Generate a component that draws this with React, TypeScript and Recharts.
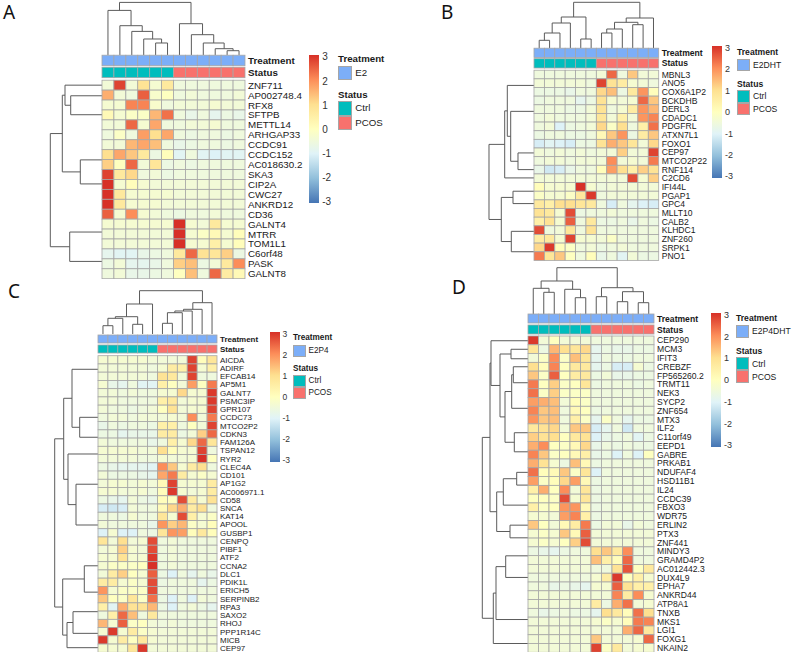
import React from 'react';
import { ScatterChart, Scatter, BarChart, Bar, XAxis, YAxis, ReferenceLine } from 'recharts';

type Tree = number | [number, Tree, Tree];

// ---------- Panel A ----------
const genesA = ['ZNF711','AP002748.4','RFX8','SFTPB','METTL14','ARHGAP33','CCDC91','CCDC152','AC018630.2','SKA3','CIP2A','CWC27','ANKRD12','CD36','GALNT4','MTRR','TOM1L1','C6orf48','PASK','GALNT8'];
const valuesA = [
  [-.2,2.8,-.2,.9,-.1,.7,-.3,-.3,-.3,-.3,-.3,-.3],
  [1.6,-.2,-.3,2.5,0,.2,-.3,-.2,-.3,-.3,-.3,-.2],
  [-.1,-.1,2.1,2.1,0,-.3,-.2,-.2,-.2,-.1,-.2,-.2],
  [.4,-.1,.1,.1,1.5,2.3,-.3,-.5,-.3,-.6,-.4,-.5],
  [-.2,-.2,2.4,-.1,1.7,-.3,-.3,-.2,-.2,-.1,-.3,-.3],
  [-.3,.1,-.3,1.8,1,1.7,-.3,-.4,-.3,-.3,-.4,-.3],
  [-.2,-.2,1.5,1.7,1.4,-.3,-.5,-.4,-.3,-.3,-.4,-.3],
  [1,1.7,1.3,.7,-.4,.3,-.7,-.3,-.7,-.8,-.7,-.7],
  [1.2,.2,2.4,-.2,.8,-.4,-.3,-.4,-.3,-.3,-.3,-.3],
  [2.8,.7,1.1,-.3,-.2,-.4,-.3,-.3,-.3,-.3,-.3,-.3],
  [3,-.1,.3,-.1,-.2,-.2,-.2,-.2,-.2,-.2,-.2,-.2],
  [3,.7,-.1,-.1,-.1,-.1,-.2,-.2,-.2,-.2,-.2,-.2],
  [3,.7,-.1,-.1,-.1,-.2,-.2,-.2,-.2,-.2,-.2,-.2],
  [2.5,-.1,2,-.1,-.2,-.3,-.4,-.3,-.3,-.2,-.3,-.3],
  [-.1,-.1,-.1,-.1,-.1,-.1,3,-.1,-.2,.7,-.1,-.1],
  [-.2,-.2,-.2,-.2,-.2,-.2,3,-.1,.1,.4,-.1,.3],
  [-.2,-.2,-.2,-.2,-.2,-.2,3,-.1,-.1,.5,-.1,.3],
  [-.6,-.7,-.7,-.5,-.4,-.3,.7,2.4,.9,.8,1.2,-.4],
  [-.4,-.2,-.6,-.6,-.5,-.3,1.2,1.4,-.4,-.2,.7,2],
  [-.3,-.2,-.5,-.5,-.4,-.3,.2,1.4,-.3,2.4,.6,.4],
];
const colTreeA: Tree = [52.6,[44.6,0,[29.3,1,[23.6,2,[16,3,[12,4,5]]]]],[31.3,6,[20.3,7,[12,8,[6.3,9,[4.3,10,11]]]]]];
const rowTreeA: Tree = [51.7,[39.7,[37,0.5,[31.3,1.57,3.48]],[21.7,8.03,10.45]],[32.3,15.3,18.26]];

// ---------- Panel B ----------
const genesB = ['MBNL3','ANO5','COX6A1P2','BCKDHB','DERL3','CDADC1','PDGFRL','ATXN7L1','FOXO1','CEP97','MTCO2P22','RNF114','C2CD6','IFI44L','PGAP1','GPC4','MLLT10','CALB2','KLHDC1','ZNF260','SRPK1','PNO1'];
const valuesB = [
  [-.3,-.3,-.3,-.3,-.3,-.3,-.2,2.4,-.3,1.3,-.2,-.2],
  [-.2,-.2,-.2,-.2,-.2,-.3,2.8,.9,.6,-.1,-.2,-.3],
  [-.4,-.4,-.4,-.5,-.3,-.3,1.1,1.4,-.4,.7,1.9,.3],
  [-.4,-.3,-.3,-.3,-.6,-.4,.9,-.1,-.2,-.1,2.4,1.3],
  [-.3,-.3,-.3,-.4,-.4,-.2,.9,-.3,-.1,.6,1.9,1.5],
  [-.3,-.2,-.3,-.3,-.3,-.2,.8,-.2,.5,-.2,1.9,2.1],
  [-.3,-.2,-.8,-.4,-.3,-.2,1.1,.1,1,-.3,.5,2.3],
  [-.4,-.3,-.3,-.4,-.4,-.3,.4,1.3,1.9,-.4,.6,1.3],
  [-.9,-.7,-.8,-.9,-.4,-.4,.9,1.6,1.3,.8,-.2,1.1],
  [-.2,-.3,-.2,-.3,-.2,-.3,-.2,-.2,1.2,-.2,-.2,2.8],
  [-.3,-.2,-.2,-.3,-.2,-.2,-.2,2,-.2,-.1,-.2,2.2],
  [-.5,-1,-.9,-.5,-.3,-.3,.3,1.8,1,.5,1.2,.9],
  [-.2,-.2,-.2,-.2,-.2,-.2,-.2,-.2,-.2,2.7,-.1,1.2],
  [.3,-.1,-.1,-.1,3,-.1,-.3,-.2,-.2,-.2,-.2,-.2],
  [.1,-.1,-.1,.1,.7,2.9,-.3,-.2,-.2,-.2,-.2,-.2],
  [.7,.5,1,1,.8,.7,-.3,-.9,-.3,-.6,-.8,-.9],
  [.9,.7,-.1,2.7,-.4,-.3,-.3,-.2,-.3,-.3,-.3,-.3],
  [.5,.9,-.1,2.5,-.3,.7,-.4,-.4,-.3,-.5,-.3,-.4],
  [2.7,-.3,-.2,.8,-.3,.9,-.3,-.3,-.3,-.3,-.3,-.3],
  [.6,.7,-.1,2.8,-.1,-.1,-.2,.1,-.3,-.3,-.3,-.3],
  [1.1,2.9,.3,.1,-.3,-.2,-.4,-.3,-.2,-.3,-.3,-.3],
  [2.2,.8,1.3,.2,-.3,.3,-.5,-.3,-.7,-.2,-.4,-.4],
];
const colTreeB: Tree = [45.7,[31,[25,[15,[7.7,0,1],2],3],[9,4,5]],[30,[25.7,[19,[15,6,7],8],[23.3,9,10]],11]];
const rowTreeB: Tree = [45,[29.3,[26.7,1.76,[23.3,4.76,[16,9.57,11.5]]],12.46],[32.7,[21,14,15.43],[22.7,18.64,21]]];

// ---------- Panel C ----------
const genesC = ['AICDA','ADIRF','EFCAB14','AP5M1','GALNT7','PSMC3IP','GPR107','CCDC73','MTCO2P2','CDKN3','FAM126A','TSPAN12','RYR2','CLEC4A','CD101','AP1G2','AC006971.1','CD58','SNCA','KAT14','APOOL','GUSBP1','CENPQ','PIBF1','ATF2','CCNA2','DLC1','PDIK1L','ERICH5','SERPINB2','RPA3','SAXO2','RHOJ','PPP1R14C','MICB','CEP97'];
const valuesC = [
  [-.1,-.1,-.1,-.1,-.1,-.2,-.2,-.2,-.2,2.8,.3,.8],
  [-.2,-.2,-.2,-.2,-.2,-.3,-.1,.6,.5,2.8,-.1,.5],
  [-.2,-.2,-.2,-.2,-.2,-.3,.9,.7,-.2,2.8,-.3,-.3],
  [-.1,-.5,-.6,-.3,-.7,-.7,.5,.2,-.2,1.8,.2,2.2],
  [-.2,-.2,-.3,-.2,-.3,-.3,-.1,-.1,1.1,-.1,-.1,2.9],
  [-.2,-.2,-.3,-.3,-.3,-.3,.5,.7,-.2,-.1,-.1,2.9],
  [-.2,-.3,-.3,-.4,-.3,-.2,.2,.9,-.2,-.1,-.1,2.8],
  [-.3,-.2,-.2,-.3,-.2,-.2,-.2,-.1,-.2,2,-.2,2.2],
  [-.5,-.3,-.4,-.3,-.3,-.4,.5,.5,-.3,.2,-.2,2.8],
  [-.4,-.4,-.6,-.5,-.5,-.5,.6,.6,-.4,-.2,1.2,2.4],
  [-.2,-.3,-.3,-.3,-.3,-.5,-.3,.5,-.1,1.1,2.4,.8],
  [-.1,-.1,-.1,-.1,-.2,-.2,1,.3,-.1,-.1,2.8,-.3],
  [-.2,-.2,-.2,-.2,-.3,-.3,-.1,-.2,-.2,-.1,3,.2],
  [-.4,-.5,-.6,-.6,-.6,-.7,2,1.3,-.1,.6,1,-.3],
  [-.2,-.4,-.4,-.4,-.5,-.6,1.7,2.2,.6,-.1,.1,-.1],
  [-.2,-.1,-.1,-.2,-.1,-.2,.4,2.8,-.1,-.1,-.1,.6],
  [-.1,-.1,-.2,-.2,-.1,-.3,.3,2.9,-.1,-.2,-.1,.6],
  [-.4,-.5,-.6,-.2,-.4,-.5,.3,.2,2.7,.6,-.1,.9],
  [-.9,-1,-.9,-.2,-.3,-.3,.4,1.1,1.6,.6,1,-.3],
  [-.3,-.3,-.4,-.1,-.3,-.3,.8,-.1,2.7,.5,-.1,.1],
  [-.2,-.3,-.3,-.3,-.3,-.5,1.9,1.2,1.5,.1,-.1,.3],
  [-.8,-.1,-.8,-.8,-.3,-.4,.8,1.9,1.8,.3,.7,.3],
  [.8,-.2,1,-.2,-.1,2.7,-.3,-.2,-.3,-.3,-.3,-.3],
  [-.2,-.1,1.2,-.1,-.2,2.7,-.3,-.2,-.3,-.3,-.3,-.3],
  [-.1,-.1,.9,-.1,-.1,2.9,-.3,-.2,-.3,-.3,-.3,-.3],
  [-.1,.1,.1,.1,.2,3,-.3,-.2,-.3,-.3,-.3,-.3],
  [-.2,.6,1.2,.2,-.1,2.5,-.4,-.8,-.3,-.6,-.3,-.5],
  [.6,.6,-.1,.1,-.1,2.7,-.4,-.3,-.3,-.3,-.6,-.4],
  [1.9,-.1,.1,.1,.1,2.7,-.3,-.3,-.3,-.3,-.3,-.3],
  [1.3,.2,.1,.8,.1,2.3,-.4,-.8,-.3,-.8,-.2,-.3],
  [.5,-.7,1.6,.9,.9,1.5,-.4,-.8,-.3,-.2,-.4,-.6],
  [-.3,.5,2.4,1.4,-.3,.7,-.3,-.3,-.3,-.3,-.3,-.3],
  [1.5,-.1,2.5,.1,.2,-.2,-.3,-.2,-.3,-.3,-.3,-.3],
  [-.1,2.9,-.1,.6,.1,-.1,-.2,-.2,-.2,-.2,-.2,-.2],
  [2.9,-.1,.6,.2,.7,-.1,-.2,-.2,-.2,-.2,-.2,-.2],
  [-.1,-.1,-.1,.8,2.9,-.2,-.2,-.2,-.2,-.2,-.2,-.2],
];
const colTreeC: Tree = [43.3,[30,[17.3,[15.7,[8.3,0,1],2],[9.7,3,4]],5],[31.3,[24.7,[23,[21.3,[10.7,6,7],8],9],10],11]];
const rowTreeC: Tree = [43.3,[34.3,[26,1.65,[18.3,7.48,9.9]],[30,11.93,[22,15.6,20.55]]],[35.3,[13.7,25.5,28.7],[31,[25,31.07,33.7],35.44]]];

// ---------- Panel D ----------
const genesD = ['CEP290','MCM3','IFIT3','CREBZF','FP565260.2','TRMT11','NEK3','SYCP2','ZNF654','MTX3','ILF2','C11orf49','EEPD1','GABRE','PRKAB1','NDUFAF4','HSD11B1','IL24','CCDC39','FBXO3','WDR75','ERLIN2','PTX3','ZNF441','MINDY3','GRAMD4P2','AC012442.3','DUX4L9','EPHA7','ANKRD44','ATP8A1','TNXB','MKS1','LGI1','FOXG1','NKAIN2'];
const valuesD = [
  [2.9,-.2,.2,-.2,-.2,-.2,-.3,-.3,-.3,-.3,-.3,-.3],
  [.8,-.4,1.5,1,.8,1.1,-.6,-.4,-.5,-.5,-.4,-.4],
  [-.2,.1,2,.1,1.4,.8,-.6,-.3,-.4,-.4,-.3,-.3],
  [1,.3,2.1,.2,.7,.7,-.6,-.4,-.9,-.9,-.1,-.4],
  [1.3,.1,2.5,.2,.6,.7,-.4,-.2,-.5,-.5,-.4,-.4],
  [2.2,.2,1.2,.1,.2,.8,-.4,-.3,-.3,-.3,-.4,-.3],
  [2.3,.1,1.2,.1,.1,.1,-.3,-.3,-.3,-.3,-.3,-.3],
  [1.8,1.6,1.4,-.2,.3,.1,-.3,-.3,-.3,-.3,-.3,-.3],
  [2.1,1.3,1.4,-.3,.4,.2,-.4,-.3,-.3,-.3,-.3,-.3],
  [1.9,1.3,1.4,-.3,.5,.1,-.6,.1,-.3,-.6,-.4,-.4],
  [.7,.9,1.1,-.2,1.3,1.3,-.9,-.6,-.3,-1,-.3,-.3],
  [1.2,.9,1,.2,.7,.9,-.8,-.5,-.4,-.3,-.7,-.4],
  [1.6,2,.2,.1,.4,1.1,-.5,-.3,-.4,-.3,-.4,-.4],
  [2.1,1.3,.1,.2,.4,.5,-.5,-.4,-.8,-.3,-.8,.2],
  [1.6,.9,-.1,-.4,1.4,.4,-.4,-.3,-.3,-.3,-.3,-.3],
  [2.3,.3,.4,1.3,.1,.8,-.8,-.3,-.3,-.3,-.3,-.3],
  [1.8,.1,.3,1.1,1.8,.4,-.4,-.3,-.3,-.3,-.3,-.3],
  [.5,1.6,.2,2,-.2,.8,-.4,-.3,-.3,-.3,-.3,-.3],
  [.2,.2,.1,2.7,-.1,.8,-.4,-.3,-.3,-.3,-.3,-.3],
  [.5,.1,.2,1.9,1.9,.4,-.4,-.3,-.3,-.3,-.3,-.3],
  [-.1,-.1,-.2,1.8,2.1,.5,-.4,-.3,-.3,-.3,-.3,-.3],
  [1.3,.2,-.2,.4,.6,2.2,-.4,-.2,-.2,-.5,-.2,-.3],
  [-.1,.1,-.1,1.3,.4,2.5,-.2,-.2,-.2,-.2,-.2,-.2],
  [-.1,.1,-.1,.2,1.2,2.7,-.2,-.2,-.2,-.2,-.2,-.2],
  [-.4,-.5,-.6,-.4,-.3,-.3,1,1.3,.7,2,-.3,-.3],
  [-.2,-.2,-.2,-.2,-.2,-.2,1.4,.5,.3,2.4,-.3,-.3],
  [-.2,-.2,-.2,-.2,-.2,-.2,-.3,-.3,.9,2.6,.2,.7],
  [-.3,-.3,-.3,-.3,-.3,-.3,-.1,.6,2.9,.2,.5,-.1],
  [-.3,-.3,-.5,-.4,-.5,-.6,-.1,-.1,2.5,.9,.5,.5],
  [-.2,-.2,-.2,-.2,-.2,-.2,-.2,-.2,2.1,.6,2,-.1],
  [-.2,-.2,-.2,-.2,-.2,-.2,.6,-.4,1.6,2.3,-.2,-.1],
  [-.3,-.5,-.4,-.3,-.4,-.4,-.6,1,.7,.3,2.3,1],
  [-.2,-.2,-.2,-.2,-.2,-.2,-.1,.1,-.1,.3,2.2,2.1],
  [-.2,-.2,-.2,-.2,-.2,-.2,-.2,-.2,-.2,1.6,2.4,.7],
  [-.2,-.2,-.2,-.2,-.2,-.2,1.3,-.2,-.2,-.2,-.1,2.4],
  [-.2,-.2,-.2,-.2,-.2,-.2,2.8,.1,.7,-.2,-.1,-.1],
];
const colTreeD: Tree = [46.3,[33,[25.7,0,[21.7,1,2]],[24.7,3,[16.3,4,5]]],[26.3,[17.3,6,7],[22.3,[12.3,8,9],[11.3,10,11]]]];
const rowTreeD: Tree = [45.7,[38,[37,.54,[28,[17,1.51,2.59],[23,[16.3,[14.7,3.5,5.32],8.23],[13.7,11.01,13.18]]]],[31.3,[24.7,[11.3,15.52,16.97],19.25],[18,21.53,22.97]]],[34.7,[32,[22.3,25.02,27.48],32.27],35]];

// ---------- Shared ----------
const statusByColumn = ['Ctrl','Ctrl','Ctrl','Ctrl','Ctrl','Ctrl','PCOS','PCOS','PCOS','PCOS','PCOS','PCOS'];
const scaleTicks = [-3,-2,-1,0,1,2,3];
const scaleStops = ['#4575B4','#91BFDB','#E0F3F8','#FFFFBF','#FEE090','#FC8D59','#D73027'];
const TREAT = '#7CAEF8';
const CTRL = '#00BDBD';
const PCOS = '#F8716D';
const FONT = '"Liberation Sans", Arial, sans-serif';

const hex = (s: string) => [1, 3, 5].map((i) => parseInt(s.slice(i, i + 2), 16));
function colorOf(value: number) {
  // The reference's near-zero cells lean paler and greener than the pure midpoint.
  const v = value < 0.5 ? value - 0.22 : value;
  const t = Math.max(0, Math.min(5.999, v + 3));
  const i = Math.floor(t);
  const a = hex(scaleStops[i]);
  const b = hex(scaleStops[i + 1]);
  const f = t - i;
  return `rgb(${a.map((c, k) => Math.round(c + (b[k] - c) * f)).join(',')})`;
}

type Seg = { d1: number; p1: number; d2: number; p2: number };
function walk(node: Tree, leaf: (n: number) => number, out: Seg[]): { p: number; d: number } {
  if (typeof node === 'number') return { p: leaf(node), d: 0 };
  const a = walk(node[1], leaf, out);
  const b = walk(node[2], leaf, out);
  const d = node[0];
  out.push({ d1: d, p1: a.p, d2: a.d, p2: a.p });
  out.push({ d1: d, p1: b.p, d2: b.d, p2: b.p });
  out.push({ d1: d, p1: a.p, d2: d, p2: b.p });
  return { p: (a.p + b.p) / 2, d };
}

type PanelProps = {
  genes: string[]; values: number[][]; colTree: Tree; rowTree: Tree;
  hl: number; hr: number; ht: number; hb: number;
  t1: number; s1: number; annH: number; base: number;
  fs: number; labelW: number; dendW: number; dendH: number;
};

function Heatmap(p: PanelProps) {
  const n = p.genes.length;
  const cols = p.values[0].length;
  const colW = (p.hr - p.hl) / cols;
  const rowH = (p.hb - p.ht) / n;
  const plotL = p.hl - p.dendW;
  const plotT = p.base - p.dendH;
  const toY = (px: number) => (px - p.ht) / rowH;

  const cells = p.values.flatMap((row, r) => row.map((v, c) => ({ x: c + 0.5, y: r + 0.5, v })));
  const yT = toY(p.t1 + p.annH / 2);
  const yS = toY(p.s1 + p.annH / 2);
  const ann = statusByColumn.flatMap((s, c) => [
    { x: c + 0.5, y: yT, color: TREAT },
    { x: c + 0.5, y: yS, color: s === 'Ctrl' ? CTRL : PCOS },
  ]);

  const labelOf = new Map<number, string>();
  labelOf.set(yT, 'Treatment');
  labelOf.set(yS, 'Status');
  p.genes.forEach((g, i) => labelOf.set(i + 0.5, g));
  const ticks = Array.from(labelOf.keys());

  const colSegs: Seg[] = [];
  walk(p.colTree, (i) => i + 0.5, colSegs);
  const rowSegs: Seg[] = [];
  walk(p.rowTree, (v) => v, rowSegs);
  const yBase = toY(p.base);

  const cellShape = (sp: any) => (
    <rect x={sp.cx - colW / 2} y={sp.cy - rowH / 2} width={colW} height={rowH}
      fill={colorOf(sp.payload.v)} stroke="#a6a6a6" strokeWidth={0.8} />
  );
  const annShape = (sp: any) => (
    <rect x={sp.cx - colW / 2} y={sp.cy - p.annH / 2} width={colW} height={p.annH}
      fill={sp.payload.color} stroke="#a6a6a6" strokeWidth={0.8} />
  );
  const tick = (tp: any) => {
    const v = tp.payload.value;
    const bold = v === yT || v === yS;
    return (
      <text x={tp.x} y={tp.y} dy="0.36em" fontFamily={FONT} fontSize={p.fs}
        fontWeight={bold ? 700 : 400} fill="#1a1a1a" textAnchor="start">{labelOf.get(v)}</text>
    );
  };

  return (
    <div style={{ position: 'absolute', left: plotL, top: plotT }}>
      <ScatterChart width={p.hr - plotL + p.labelW} height={p.hb - plotT}
        margin={{ top: 0, right: 0, bottom: 0, left: 0 }}>
        <XAxis type="number" dataKey="x" hide domain={[-p.dendW / colW, cols]} />
        <YAxis type="number" dataKey="y" orientation="right" reversed width={p.labelW}
          domain={[toY(plotT), n]} ticks={ticks} interval={0} tick={tick}
          tickLine={false} axisLine={false} tickSize={0} tickMargin={3} />
        <Scatter data={ann} shape={annShape} isAnimationActive={false} />
        <Scatter data={cells} shape={cellShape} isAnimationActive={false} />
        {colSegs.map((s, i) => (
          <ReferenceLine key={'c' + i} ifOverflow="visible" stroke="#5a5a5a" strokeWidth={1}
            segment={[{ x: s.p1, y: yBase - s.d1 / rowH }, { x: s.p2, y: yBase - s.d2 / rowH }]} />
        ))}
        {rowSegs.map((s, i) => (
          <ReferenceLine key={'r' + i} ifOverflow="visible" stroke="#5a5a5a" strokeWidth={1}
            segment={[{ x: -s.d1 / colW, y: s.p1 }, { x: -s.d2 / colW, y: s.p2 }]} />
        ))}
      </ScatterChart>
    </div>
  );
}

const barData = [{ name: 'scale', range: [-3.08, 3.08] }];
const BAR_PAD = 8;

function ColorBar({ id, left, top, h, w, fs }: { id: string; left: number; top: number; h: number; w: number; fs: number }) {
  return (
    <div style={{ position: 'absolute', left, top: top - BAR_PAD }}>
      <BarChart width={w + 18} height={h + BAR_PAD * 2} data={barData} barCategoryGap={0}
        margin={{ top: BAR_PAD, right: 0, bottom: BAR_PAD, left: 0 }}>
        <defs>
          <linearGradient id={id} x1="0" y1="1" x2="0" y2="0">
            {scaleStops.map((c, i) => <stop key={i} offset={i / 6} stopColor={c} />)}
          </linearGradient>
        </defs>
        <XAxis dataKey="name" hide />
        <YAxis type="number" orientation="right" width={18} domain={[-3.08, 3.08]} ticks={scaleTicks} interval={0}
          tickLine={false} axisLine={false} tickSize={0} tickMargin={3}
          tick={{ fontSize: fs, fontFamily: FONT, fill: '#333', textAnchor: 'start' }} />
        <Bar dataKey="range" fill={`url(#${id})`} isAnimationActive={false} />
      </BarChart>
    </div>
  );
}

function T({ x, y, fs, bold, children }: { x: number; y: number; fs: number; bold?: boolean; children: React.ReactNode }) {
  return (
    <div style={{ position: 'absolute', left: x, top: y - 10, height: 20, lineHeight: '20px', fontSize: fs,
      fontFamily: FONT, fontWeight: bold ? 700 : 400, color: '#1a1a1a', whiteSpace: 'nowrap' }}>{children}</div>
  );
}
function Sw({ x, y, w, h, c }: { x: number; y: number; w: number; h: number; c: string }) {
  return <div style={{ position: 'absolute', left: x, top: y, width: w, height: h, background: c, boxSizing: 'border-box', border: '1px solid #a6a6a6' }} />;
}
function LegendBlock({ x, name, fs, y0, sw, step }: { x: number; name: string; fs: number; y0: number; sw: number; step: number }) {
  const tx = x + sw + 3;
  const yA = y0;
  const y1 = yA + 6.5;
  const yS = y1 + step + (step * 1.0);
  const y2 = yS + 6.5;
  return (
    <>
      <T x={x} y={yA} fs={fs} bold>Treatment</T>
      <Sw x={x} y={y1} w={sw} h={step} c={TREAT} />
      <T x={tx} y={y1 + step / 2} fs={fs}>{name}</T>
      <T x={x} y={yS} fs={fs} bold>Status</T>
      <Sw x={x} y={y2} w={sw} h={step} c={CTRL} />
      <Sw x={x} y={y2 + step} w={sw} h={step} c={PCOS} />
      <T x={tx} y={y2 + step / 2} fs={fs}>Ctrl</T>
      <T x={tx} y={y2 + step * 1.5} fs={fs}>PCOS</T>
    </>
  );
}
function Letter({ x, y, s }: { x: number; y: number; s: string }) {
  return <div style={{ position: 'absolute', left: x, top: y, fontFamily: '"Noto Sans", sans-serif', fontSize: 19, lineHeight: '24px', color: '#111' }}>{s}</div>;
}

export default function App() {
  return (
    <div style={{ position: 'absolute', left: 0, top: 0, width: 793, height: 655, background: '#fff', overflow: 'hidden' }}>
      <Letter x={3} y={0} s="A" />
      <Letter x={441} y={0} s="B" />
      <Letter x={8} y={279} s="C" />
      <Letter x={452} y={275} s="D" />

      <Heatmap genes={genesA} values={valuesA} colTree={colTreeA} rowTree={rowTreeA}
        hl={102} hr={245} ht={80.5} hb={279} t1={55.5} s1={67.5} annH={10.5} base={55.3}
        fs={9.8} labelW={70} dendW={60} dendH={55} />
      <ColorBar id="gA" left={309.3} top={55} h={148} w={10.2} fs={10} />
      <LegendBlock x={338} name="E2" fs={9.7} y0={59} sw={14.3} step={14.5} />

      <Heatmap genes={genesB} values={valuesB} colTree={colTreeB} rowTree={rowTreeB}
        hl={534.3} hr={659} ht={70.5} hb={260.7} t1={48.5} s1={59} annH={9.3} base={48.3}
        fs={8.6} labelW={60} dendW={50} dendH={48} />
      <ColorBar id="gB" left={712} top={46} h={132} w={10} fs={9} />
      <LegendBlock x={737} name="E2DHT" fs={8.6} y0={52} sw={13} step={12.5} />

      <Heatmap genes={genesC} values={valuesC} colTree={colTreeC} rowTree={rowTreeC}
        hl={97.7} hr={216.7} ht={355.7} hb={652.3} t1={335} s1={345} annH={8} base={334}
        fs={8} labelW={50} dendW={48} dendH={46} />
      <ColorBar id="gC" left={270} top={332} h={130} w={9.5} fs={8.5} />
      <LegendBlock x={293} name="E2P4" fs={8.2} y0={338} sw={12.5} step={12} />

      <Heatmap genes={genesD} values={valuesD} colTree={colTreeD} rowTree={rowTreeD}
        hl={528} hr={654} ht={336} hb={652.3} t1={314} s1={325} annH={9} base={314}
        fs={8.6} labelW={56} dendW={50} dendH={48} />
      <ColorBar id="gD" left={711} top={313} h={134} w={10} fs={9} />
      <LegendBlock x={736} name="E2P4DHT" fs={8.6} y0={318} sw={13} step={13} />
    </div>
  );
}
